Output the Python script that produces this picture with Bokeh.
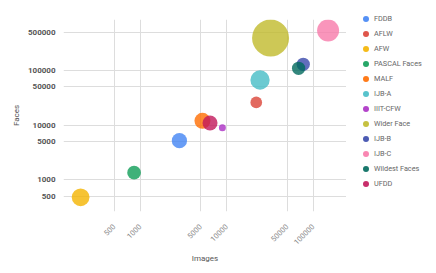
from bokeh.plotting import figure
from bokeh.layouts import row
from bokeh.models import Range1d, FixedTicker, PrintfTickFormatter, Legend, LegendItem, ColumnDataSource
from bokeh.embed import file_html
from bokeh.resources import INLINE

datasets = ["FDDB", "AFLW", "AFW", "PASCAL Faces", "MALF", "IJB-A", "IIIT-CFW",
            "Wider Face", "IJB-B", "IJB-C", "Wildest Faces", "UFDD"]
images = [2845, 21997, 205, 851, 5250, 24327, 8927, 32203, 76824, 148876, 67889, 6425]
faces = [5171, 25993, 473, 1341, 11931, 67000, 8927, 393703, 130000, 540630, 109771, 10897]
bubble = [15.3, 11.7, 17.7, 13.7, 16.0, 19.3, 7.0, 37.0, 13.3, 22.0, 13.3, 15.0]
colors = ["#4285F4", "#DB4437", "#F4B400", "#0F9D58", "#FF6D00", "#46BDC6", "#AB30C4",
          "#C0BA2C", "#3949AB", "#F87AAA", "#00695C", "#C2185B"]

x_ticks = [500, 1000, 5000, 10000, 50000, 100000]
y_ticks = [500, 1000, 5000, 10000, 50000, 100000, 500000]

FONT = "Roboto"

p = figure(width=346, height=265, x_axis_type="log", y_axis_type="log",
           x_range=Range1d(130, 243000), y_range=Range1d(260, 861000),
           output_backend="svg", toolbar_location=None,
           min_border_left=63, min_border_right=0, min_border_top=19, min_border_bottom=52)
p.outline_line_color = None
p.background_fill_color = "white"
p.frame_align = False

# legend panel (separate small figure so it can sit right of the plot area)
lg = figure(width=82, height=265, x_range=Range1d(0, 1), y_range=Range1d(0, 1),
            output_backend="svg", toolbar_location=None,
            x_axis_location=None, y_axis_location=None, min_border=0)
lg.outline_line_color = None
lg.grid.visible = False
lg.frame_align = False

items = []
for i, name in enumerate(datasets):
    src = ColumnDataSource(dict(x=[images[i]], y=[faces[i]], s=[bubble[i]]))
    p.scatter("x", "y", size="s", source=src, fill_color=colors[i], fill_alpha=0.8,
              line_color=colors[i], line_alpha=0.0)
    # legend key: same point, outside the legend panel's visible range
    key = lg.scatter("x", "y", source=src, fill_color=colors[i], fill_alpha=0.9, line_alpha=0.0)
    items.append(LegendItem(label=name, renderers=[key]))

legend = Legend(items=items, location=(12, 74), orientation="vertical",
                glyph_height=15, glyph_width=15, label_height=15, spacing=0,
                padding=0, margin=0, label_standoff=1,
                label_text_font=FONT, label_text_font_size="7.3px",
                label_text_color="#666666", border_line_color=None,
                background_fill_alpha=0)
lg.add_layout(legend, "center")

for ax in (p.xaxis[0], p.yaxis[0]):
    ax.axis_line_color = None
    ax.major_tick_line_color = None
    ax.minor_tick_line_color = None
    ax.formatter = PrintfTickFormatter(format="%d")
    ax.axis_label_text_font = FONT
    ax.axis_label_text_font_style = "normal"
    ax.axis_label_text_font_size = "8px"
    ax.axis_label_text_color = "#555555"
    ax.major_label_text_font = FONT

p.xaxis.ticker = FixedTicker(ticks=x_ticks)
p.yaxis.ticker = FixedTicker(ticks=y_ticks)
p.xaxis.axis_label = "Images"
p.yaxis.axis_label = "Faces"
p.xaxis.major_label_orientation = 0.785398
p.xaxis.major_label_text_font_size = "7.5px"
p.xaxis.major_label_text_color = "#888888"
p.xaxis.major_label_standoff = 8
p.xaxis.axis_label_standoff = 4
p.yaxis.major_label_text_font_size = "8px"
p.yaxis.major_label_text_font_style = "bold"
p.yaxis.major_label_text_color = "#555555"
p.yaxis.major_label_standoff = 2
p.yaxis.axis_label_standoff = 4

p.xgrid.ticker = FixedTicker(ticks=x_ticks)
p.ygrid.ticker = FixedTicker(ticks=y_ticks)
p.grid.grid_line_color = "#dddddd"
p.grid.grid_line_width = 1
p.xgrid.minor_grid_line_color = None
p.ygrid.minor_grid_line_color = None

layout = row(p, lg)
open("out.html", "w").write(file_html(layout, INLINE))
